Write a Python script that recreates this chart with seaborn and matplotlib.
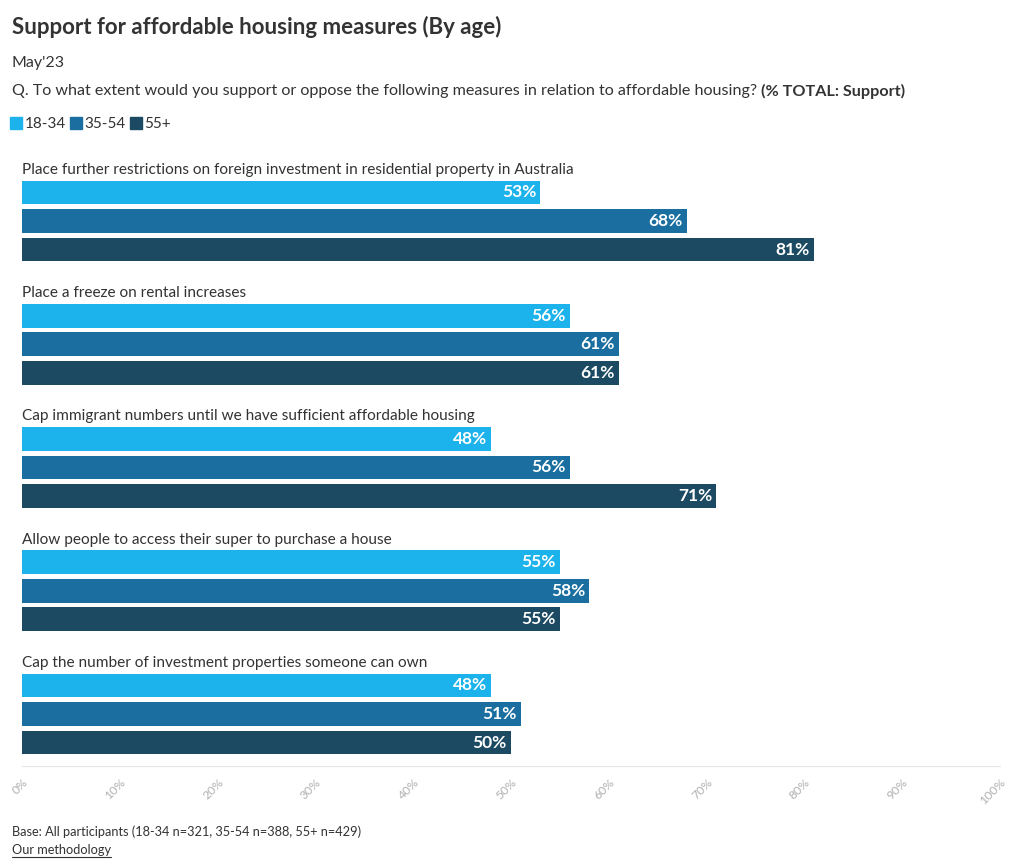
import matplotlib
matplotlib.use("Agg")
import matplotlib.pyplot as plt
import pandas as pd
import seaborn as sns

measures = [
    "Place further restrictions on foreign investment in residential property in Australia",
    "Place a freeze on rental increases",
    "Cap immigrant numbers until we have sufficient affordable housing",
    "Allow people to access their super to purchase a house",
    "Cap the number of investment properties someone can own",
]
age_groups = ["18-34", "35-54", "55+"]
support_18_34 = [53, 56, 48, 55, 48]
support_35_54 = [68, 61, 56, 58, 51]
support_55_plus = [81, 61, 71, 55, 50]
tick_values = list(range(0, 101, 10))

colors = ["#1cb2eb", "#1a6fa0", "#1c4a62"]
text_color = "#333333"

df = pd.DataFrame({
    "measure": measures * 3,
    "age": [a for a in age_groups for _ in measures],
    "support": support_18_34 + support_35_54 + support_55_plus,
})

sns.set_theme(style="white")
plt.rcParams["font.family"] = ["Lato", "DejaVu Sans"]

fig = plt.figure(figsize=(10.2, 8.68), dpi=100)
ax = fig.add_axes([22 / 1020, 1 - 766 / 868, 978 / 1020, 616 / 868])

sns.barplot(
    data=df, y="measure", x="support", hue="age", order=measures,
    hue_order=age_groups, palette=colors, orient="h",
    width=0.694, gap=0.17, saturation=1, legend=False, linewidth=0, ax=ax,
)

ax.set_xlim(0, 100)
ax.set_ylim(4.422, -0.576)
ax.set_xlabel("")
ax.set_ylabel("")
ax.set_yticks([])
ax.set_xticks(tick_values)
ax.set_xticklabels([f"{t}%" for t in tick_values], rotation=45, ha="right",
                   rotation_mode="anchor", fontsize=8.8, color="#b0b0b0")
ax.tick_params(axis="x", length=5, width=0.8, color="#e6e6e6", pad=3)
for side in ["top", "right", "left"]:
    ax.spines[side].set_visible(False)
ax.spines["bottom"].set_color("#e6e6e6")
ax.spines["bottom"].set_linewidth(0.8)

# value labels inside bar ends
for container in ax.containers:
    for bar in container:
        w = bar.get_width()
        yc = bar.get_y() + bar.get_height() / 2
        ax.annotate(f"{w:.0f}%", (w, yc), xytext=(-3, 0), textcoords="offset points",
                    ha="right", va="center", color="white", fontsize=12.5,
                    fontweight="bold")

# category labels above each group
for i, m in enumerate(measures):
    ax.text(0, i - 0.415, m, ha="left", va="center", fontsize=11.1, color=text_color)

# header
fig.text(12 / 1020, 1 - 27 / 868, "Support for affordable housing measures (By age)",
         fontsize=16, fontweight="bold", color=text_color, va="center")
fig.text(12 / 1020, 1 - 63 / 868, "May'23", fontsize=11.5, color=text_color, va="center")
q = fig.text(12 / 1020, 1 - 91 / 868,
             "Q. To what extent would you support or oppose the following measures in relation to affordable housing? ",
             fontsize=11.6, color=text_color, va="center")
renderer = fig.canvas.get_renderer()
bb = q.get_window_extent(renderer=renderer)
fig.text(bb.x1 / fig.bbox.width, 1 - 91 / 868, "(% TOTAL: Support)",
         fontsize=11.6, fontweight="bold", color=text_color, va="center")

# legend
handles = [plt.Line2D([], [], marker="s", linestyle="", markersize=9,
                      markerfacecolor=c, markeredgecolor=c) for c in colors]
fig.legend(handles, age_groups, loc="center left", bbox_to_anchor=(5 / 1020, 1 - 124 / 868),
           ncol=3, frameon=False, handlelength=0.7, handletextpad=0.2,
           columnspacing=0.3, fontsize=11, labelcolor=text_color, borderaxespad=0)

# footer
fig.text(12 / 1020, 1 - 832 / 868, "Base: All participants (18-34 n=321, 35-54 n=388, 55+ n=429)",
         fontsize=9.2, color=text_color, va="center")
link = fig.text(12 / 1020, 1 - 850 / 868, "Our methodology", fontsize=9.2,
                color=text_color, va="center")
lb = link.get_window_extent(renderer=renderer)
fig.add_artist(plt.Line2D([lb.x0 / fig.bbox.width, lb.x1 / fig.bbox.width],
                          [(lb.y0 - 1) / fig.bbox.height] * 2, color=text_color, linewidth=0.8))

fig.savefig("out.png", dpi=100)
